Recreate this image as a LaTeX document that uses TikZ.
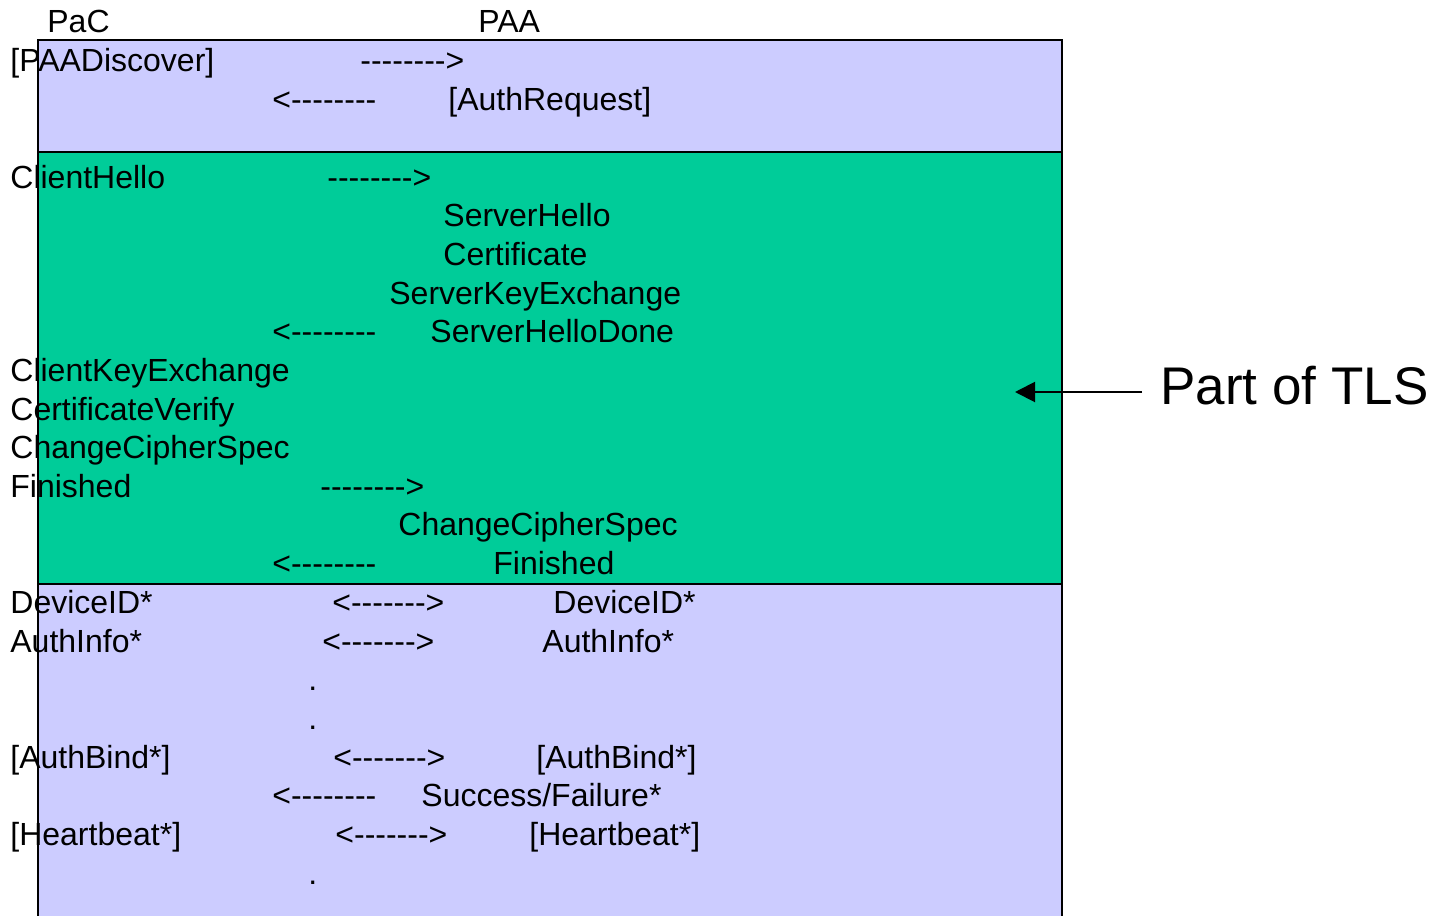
\documentclass[tikz,border=0pt]{standalone}
\usepackage{fontspec}
\setmainfont{Liberation Sans}[Ligatures=TeXOff]
\usetikzlibrary{arrows.meta}
\definecolor{pacblue}{HTML}{CCCCFF}
\definecolor{tlsgreen}{HTML}{00CC99}
\tikzset{
  msg/.style={anchor=base west,inner sep=0pt,font=\fontsize{16}{19}\selectfont},
  band/.style={draw=black,line width=1pt},
}
\begin{document}
\begin{tikzpicture}[x=0.5pt,y=-0.5pt]
        \useasboundingbox (0,0) rectangle (1439,915);
        \begin{scope}
            \clip (0,0) rectangle (1439,915);
            \filldraw[band,fill=pacblue] (38,40) rectangle (1062,152);
            \filldraw[band,fill=tlsgreen] (38,152) rectangle (1062,584);
            \filldraw[band,fill=pacblue] (38,584) rectangle (1062,940);
        \end{scope}
        \node[msg] (pac) at (47,33) {PaC};
        \node[msg] (paa) at (478,33) {PAA};
        % PaC column
        \foreach \t/\y [count=\i] in {{[PAADiscover]}/72, ClientHello/188,
            ClientKeyExchange/381, CertificateVerify/420, ChangeCipherSpec/458,
            Finished/497, DeviceID*/613, AuthInfo*/652, {[AuthBind*]}/768,
            {[Heartbeat*]}/845.5}
            \node[msg] (pacmsg\i) at (10,\y) {\t};
        % PAA column
        \node[msg] (authreq) at (448,111) {[AuthRequest]};
        \node[msg] (shello) at (443,226) {ServerHello};
        \node[msg] (cert) at (443,265) {Certificate};
        \node[msg] (skex) at (389,304) {ServerKeyExchange};
        \node[msg] (shdone) at (430,342) {ServerHelloDone};
        \node[msg] (sccs) at (398,535) {ChangeCipherSpec};
        \node[msg] (sfin) at (493,574) {Finished};
        \node[msg] (sdev) at (553,613) {DeviceID*};
        \node[msg] (sauth) at (542,652) {AuthInfo*};
        \node[msg] (sbind) at (536,768) {[AuthBind*]};
        \node[msg] (sres) at (421,806.8) {Success/Failure*};
        \node[msg] (sbeat) at (529,845.5) {[Heartbeat*]};
        % arrows written as text
        \foreach \x/\y/\t [count=\i] in {360/72/-------->, 272/111/<--------,
            327/188/-------->, 272/342/<--------, 320/497/-------->,
            272/574/<--------, 332/613/<------->, 322/652/<------->,
            333/768/<------->, 272/806.8/<--------, 335/845.5/<------->}
            \node[msg] (flow\i) at (\x,\y) {\t};
        \foreach \y [count=\i] in {690.7,729.4,884}
            \node[msg] (gap\i) at (308,\y) {.};
        % label
        \node[anchor=base west,inner xsep=9pt,inner ysep=0pt,
            font=\fontsize{26.5}{31}\selectfont] (tls) at (1142,404) {Part of TLS};
        \coordinate (tlsin) at (1015,392);
        \draw[line width=1pt,-{Triangle[length=10pt,width=10pt]}]
            (tls.west |- tlsin) -- (tlsin);
\end{tikzpicture}
\end{document}
